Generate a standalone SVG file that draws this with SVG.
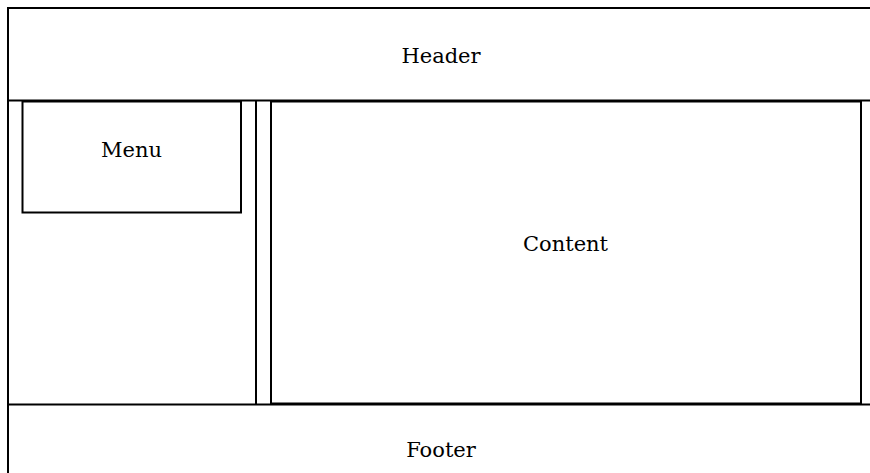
<svg xmlns="http://www.w3.org/2000/svg" width="870" height="473" viewBox="0 0 870 473">
<style>
.b{fill:none;stroke:#000;stroke-width:2}
.t{font-family:"DejaVu Serif",serif;font-size:21px;fill:#000;text-anchor:middle}
</style>
<rect x="0" y="0" width="870" height="473" fill="#fff"/>
<g id="header">
<path class="b" d="M8,473 V8 H872"/>
<line class="b" x1="8" y1="100.5" x2="870" y2="100.5" stroke-width="2.4"/>
<text class="t" x="441" y="63">Header</text>
</g>
<g id="menu">
<rect class="b" x="22.5" y="101.5" width="218.5" height="111"/>
<text class="t" x="131.5" y="157">Menu</text>
</g>
<g id="sidebar">
<line class="b" x1="256" y1="101" x2="256" y2="404"/>
</g>
<g id="content">
<rect class="b" x="271" y="101.5" width="590" height="302"/>
<text class="t" x="565.5" y="251">Content</text>
</g>
<g id="footer">
<line class="b" x1="8" y1="404.5" x2="870" y2="404.5"/>
<text class="t" x="441" y="457">Footer</text>
</g>
<g id="connectors"></g>
</svg>
